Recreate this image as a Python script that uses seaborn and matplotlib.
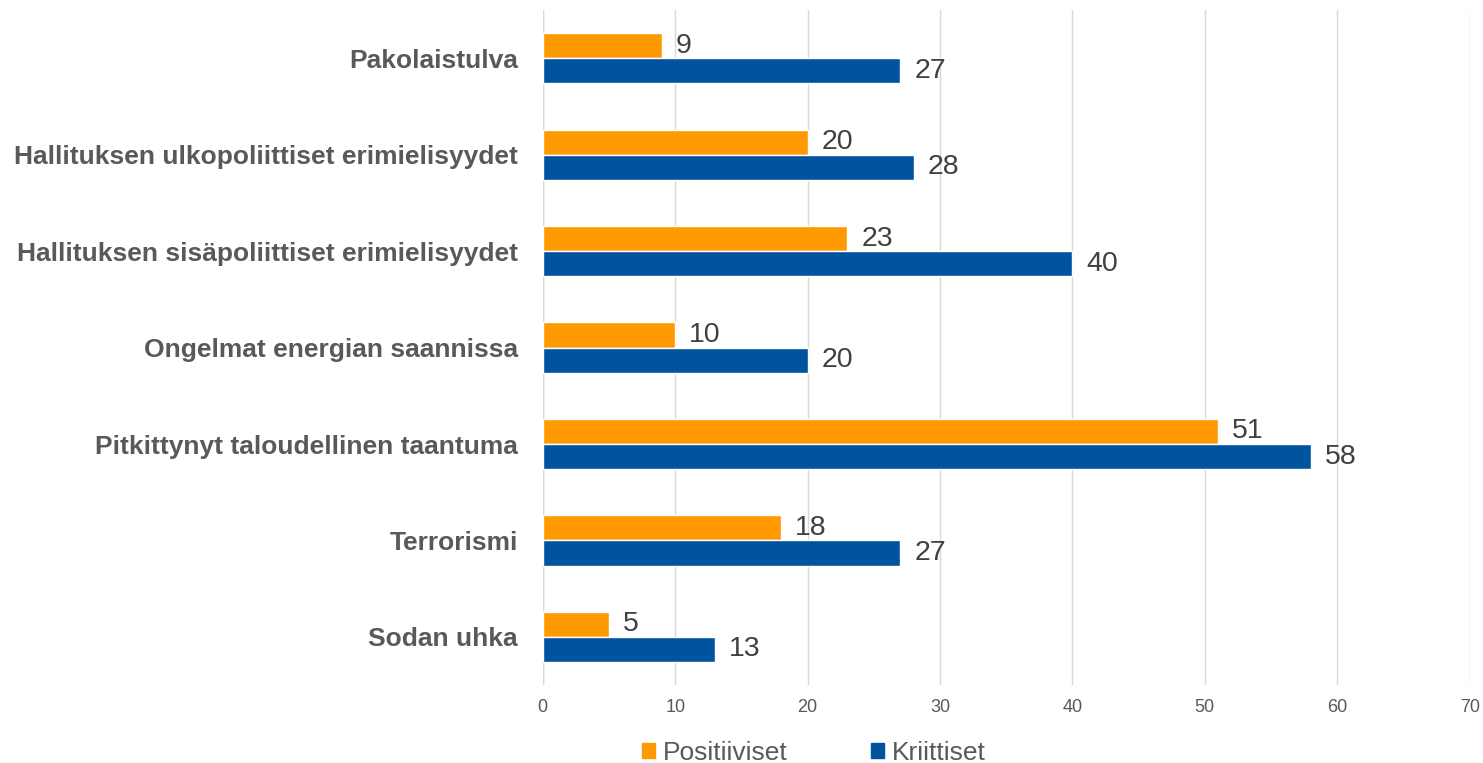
import matplotlib
matplotlib.use("Agg")
import matplotlib.pyplot as plt
import seaborn as sns
import pandas as pd
from matplotlib.patches import Patch

categories = ["Pakolaistulva", "Hallituksen ulkopoliittiset erimielisyydet",
              "Hallituksen sisäpoliittiset erimielisyydet", "Ongelmat energian saannissa",
              "Pitkittynyt taloudellinen taantuma", "Terrorismi", "Sodan uhka"]
positiiviset = [9, 20, 23, 10, 51, 18, 5]
kriittiset = [27, 28, 40, 20, 58, 27, 13]
series = ["Positiiviset", "Kriittiset"]
xticks = [0, 10, 20, 30, 40, 50, 60, 70]

df = pd.DataFrame({
    "cat": categories * 2,
    "val": positiiviset + kriittiset,
    "series": [series[0]] * len(categories) + [series[1]] * len(categories),
})

sns.set_theme(style="white")
plt.rcParams['font.family'] = ['Liberation Sans', 'DejaVu Sans']

fig = plt.figure(figsize=(14.83, 7.63), dpi=100)
ax = fig.add_axes([0.366, 0.102, 0.625, 0.885])
palette = {"Positiiviset": "#FF9900", "Kriittiset": "#00549F"}
sns.barplot(data=df, y="cat", x="val", hue="series", palette=palette, ax=ax,
            width=0.52, gap=0, dodge=True, saturation=1, legend=False, orient="h")

for cont in ax.containers:
    ax.bar_label(cont, padding=10, fontsize=20.5, color="#404040")

ax.set_xlim(0, 70)
ax.set_xticks(xticks)
ax.set_xticklabels([str(t) for t in xticks], fontsize=13, color="#595959")
ax.tick_params(axis="x", length=0, pad=10)
ax.tick_params(axis="y", length=0, pad=18)
for lbl in ax.get_yticklabels():
    lbl.set_fontsize(19)
    lbl.set_fontweight("bold")
    lbl.set_color("#595959")
ax.set_xlabel("")
ax.set_ylabel("")
ax.grid(axis="x", color="#D9D9D9", linewidth=1)
ax.set_axisbelow(True)
for s in ax.spines.values():
    s.set_visible(False)
ax.axvline(0, color="#D9D9D9", linewidth=1, zorder=0)

handles = [Patch(color=palette[s]) for s in series]
fig.legend(handles, series, loc="center", bbox_to_anchor=(0.549, 0.0135), ncol=2,
           frameon=False, fontsize=19, handlelength=0.5, handleheight=0.5,
           handletextpad=0.3, columnspacing=3.15, labelcolor="#595959")

fig.savefig("out.png", dpi=100)
